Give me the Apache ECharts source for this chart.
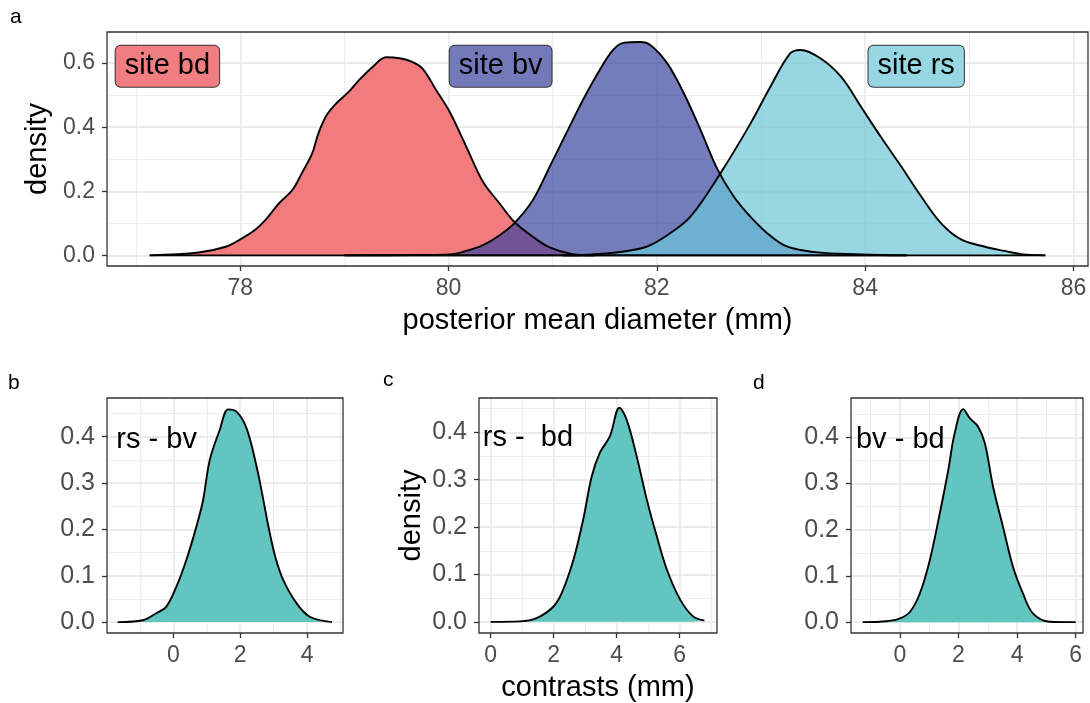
<!DOCTYPE html>
<html>
<head>
<meta charset="utf-8">
<script src="https://cdn.jsdelivr.net/npm/echarts@6/dist/echarts.min.js"></script>
<style>html,body{margin:0;padding:0;background:#fff}#c{width:1090px;height:703px}</style>
</head>
<body>
<div id="c"></div>
<script>
// ---- panel a: posterior mean diameter densities ----
const bdX = [77.13, 77.60, 77.86, 78.00, 78.14, 78.24, 78.37, 78.50, 78.59, 78.69, 78.75, 78.83, 78.92, 79.04, 79.14, 79.27, 79.40, 79.53, 79.65, 79.75, 79.88, 80.01, 80.17, 80.33, 80.49, 80.63, 80.81, 80.97, 81.19, 81.40];
const bdY = [0, 0.009, 0.027, 0.050, 0.079, 0.110, 0.162, 0.204, 0.256, 0.318, 0.381, 0.438, 0.474, 0.510, 0.547, 0.588, 0.618, 0.615, 0.604, 0.583, 0.516, 0.448, 0.339, 0.230, 0.162, 0.105, 0.058, 0.025, 0.004, 0];
const bvX = [79.00, 79.60, 80.01, 80.17, 80.33, 80.49, 80.63, 80.81, 80.97, 81.13, 81.29, 81.45, 81.58, 81.68, 81.84, 81.94, 82.10, 82.26, 82.42, 82.58, 82.74, 82.90, 83.06, 83.22, 83.38, 83.60, 83.96, 84.40];
const bvY = [0, 0.001, 0.003, 0.014, 0.032, 0.063, 0.100, 0.173, 0.276, 0.381, 0.485, 0.578, 0.641, 0.663, 0.666, 0.656, 0.599, 0.505, 0.391, 0.270, 0.183, 0.120, 0.069, 0.032, 0.017, 0.008, 0.003, 0];
const rsX = [81.10, 81.33, 81.61, 81.90, 82.10, 82.32, 82.61, 82.90, 83.09, 83.28, 83.38, 83.57, 83.77, 83.96, 84.15, 84.35, 84.54, 84.73, 84.92, 85.15, 85.34, 85.50, 85.73];
const rsY = [0, 0.002, 0.009, 0.027, 0.063, 0.120, 0.256, 0.412, 0.526, 0.630, 0.641, 0.615, 0.557, 0.464, 0.370, 0.276, 0.183, 0.100, 0.050, 0.027, 0.014, 0.004, 0];
const siteLabels = ['site bd', 'site bv', 'site rs'];
const siteLabelX = [77.30, 80.50, 84.49];
const siteLabelY = [0.59, 0.59, 0.59];

// ---- panels b, c, d: contrasts ----
const rsBvX = [-1.66, -0.91, -0.51, -0.21, 0.09, 0.39, 0.69, 0.89, 1.09, 1.39, 1.64, 1.89, 2.19, 2.49, 2.70, 2.86, 3.05, 3.29, 3.69, 4.09, 4.74];
const rsBvY = [0, 0.004, 0.019, 0.033, 0.076, 0.134, 0.206, 0.263, 0.350, 0.415, 0.459, 0.454, 0.418, 0.335, 0.260, 0.200, 0.140, 0.090, 0.040, 0.011, 0];
const rsBdX = [0, 0.93, 1.46, 1.99, 2.26, 2.63, 2.94, 3.21, 3.47, 3.79, 4.09, 4.32, 4.64, 4.96, 5.28, 5.60, 6.02, 6.44, 6.79];
const rsBdY = [0, 0.001, 0.008, 0.032, 0.061, 0.131, 0.216, 0.307, 0.357, 0.392, 0.452, 0.427, 0.349, 0.258, 0.180, 0.110, 0.047, 0.011, 0.003];
const bvBdX = [-1.27, -0.45, 0, 0.34, 0.68, 1.02, 1.36, 1.65, 1.87, 2.16, 2.39, 2.67, 2.90, 3.18, 3.52, 3.86, 4.20, 4.54, 5.11, 6.00];
const bvBdY = [0, 0.002, 0.008, 0.022, 0.062, 0.134, 0.235, 0.329, 0.409, 0.461, 0.441, 0.423, 0.387, 0.293, 0.206, 0.120, 0.062, 0.019, 0.001, 0];
const contrastLabels = ['rs - bv', 'rs -  bd', 'bv - bd'];
const contrastLabelX = [-1.70, -0.25, -1.50];
const contrastLabelY = [0.393, 0.388, 0.394];

// ---- ticks ----
const aXTicks = [78, 80, 82, 84, 86];
const aXMinor = [77, 79, 81, 83, 85];
const aYTicks = [0, 0.2, 0.4, 0.6];
const aYMinor = [0.1, 0.3, 0.5];
const bXTicks = [0, 2, 4];
const bXMinor = [-1, 1, 3, 5];
const cXTicks = [0, 2, 4, 6];
const cXMinor = [1, 3, 5, 7];
const dXTicks = [0, 2, 4, 6];
const dXMinor = [-1, 1, 3, 5];
const bcdYTicks = [0, 0.1, 0.2, 0.3, 0.4];
const bcdYMinor = [0.05, 0.15, 0.25, 0.35, 0.45];

const FONT = "'Liberation Sans', Arial, sans-serif";
const GRID = '#EBEBEB';
const DARK = '#333333';
const zip = (xs, ys) => xs.map((x, i) => [x, ys[i]]);

const grids = [
  {left: 107, top: 32, width: 981, height: 234},
  {left: 107, top: 398, width: 236, height: 235},
  {left: 479, top: 398, width: 238, height: 235},
  {left: 851, top: 398, width: 232, height: 235}
].map(g => Object.assign({show: true, borderColor: DARK, borderWidth: 1.3, backgroundColor: 'transparent', containLabel: false, z: 3}, g));

const xAxes = [], yAxes = [];
function addAxes(gi, xr, xt, xm, yr, yt, ym, xName, yName, yFont) {
  xAxes.push({type: 'value', gridIndex: gi, min: xr[0], max: xr[1], z: 1, position: 'bottom',
    axisLine: {show: false, onZero: false},
    axisTick: {show: true, length: 5, customValues: xt, lineStyle: {color: DARK, width: 1.3}},
    axisLabel: {customValues: xt, color: '#4D4D4D', fontSize: 23, fontFamily: FONT, margin: 11},
    splitLine: {show: true, lineStyle: {color: GRID, width: 1.8}},
    name: xName, nameLocation: 'middle', nameGap: 40,
    nameTextStyle: {color: '#000', fontSize: 29, fontFamily: FONT}});
  xAxes.push({type: 'value', gridIndex: gi, min: xr[0], max: xr[1], z: 0, position: 'bottom',
    axisLine: {show: false, onZero: false}, axisTick: {show: false, customValues: xm},
    axisLabel: {show: false, customValues: xm},
    splitLine: {show: true, lineStyle: {color: GRID, width: 0.9}}});
  yAxes.push({type: 'value', gridIndex: gi, min: yr[0], max: yr[1], z: 1, position: 'left',
    axisLine: {show: false, onZero: false},
    axisTick: {show: true, length: 5, customValues: yt, lineStyle: {color: DARK, width: 1.3}},
    axisLabel: {customValues: yt, color: '#4D4D4D', fontSize: yFont, fontFamily: FONT, margin: 12,
      formatter: v => v.toFixed(1)},
    splitLine: {show: true, lineStyle: {color: GRID, width: 1.8}},
    name: yName, nameLocation: 'middle', nameGap: 53,
    nameTextStyle: {color: '#000', fontSize: 29, fontFamily: FONT}});
  yAxes.push({type: 'value', gridIndex: gi, min: yr[0], max: yr[1], z: 0, position: 'left',
    axisLine: {show: false, onZero: false}, axisTick: {show: false, customValues: ym},
    axisLabel: {show: false, customValues: ym},
    splitLine: {show: true, lineStyle: {color: GRID, width: 0.9}}});
}
addAxes(0, [76.72, 86.14], aXTicks, aXMinor, [-0.033, 0.697], aYTicks, aYMinor, 'posterior mean diameter (mm)', 'density', 23);
addAxes(1, [-1.98, 5.07], bXTicks, bXMinor, [-0.0235, 0.4835], bcdYTicks, bcdYMinor, '', '', 25);
addAxes(2, [-0.37, 7.19], cXTicks, cXMinor, [-0.0235, 0.4725], bcdYTicks, bcdYMinor, 'contrasts (mm)', 'density', 25);
addAxes(3, [-1.67, 6.25], dXTicks, dXMinor, [-0.0235, 0.485], bcdYTicks, bcdYMinor, '', '', 25);

const series = [];
function density(gi, xs, ys, fill, alpha, closed) {
  series.push({type: 'line', xAxisIndex: gi * 2, yAxisIndex: gi * 2, data: zip(xs, ys),
    smooth: 0.35, symbol: 'none', z: 2, silent: true,
    lineStyle: {color: '#000', width: 1.9},
    areaStyle: {color: fill, opacity: alpha, origin: 0}});
  if (closed) {
    series.push({type: 'line', xAxisIndex: gi * 2, yAxisIndex: gi * 2,
      data: [[xs[0], 0], [xs[xs.length - 1], 0]], symbol: 'none', z: 2, silent: true,
      lineStyle: {color: '#000', width: 1.9}});
  }
}
density(0, bdX, bdY, '#F27B7E', 1, true);
density(0, bvX, bvY, '#3A44A0', 0.7, true);
density(0, rsX, rsY, '#69C6D7', 0.7, true);
density(1, rsBvX, rsBvY, '#62C5BF', 1, false);
density(2, rsBdX, rsBdY, '#62C5BF', 1, false);
density(3, bvBdX, bvBdY, '#62C5BF', 1, false);

const siteFills = ['#F07E80', '#7479BA', '#96D7E3'];
series.push({type: 'scatter', xAxisIndex: 0, yAxisIndex: 0, symbolSize: 0, z: 5, silent: true,
  itemStyle: {color: 'transparent', opacity: 1},
  data: siteLabels.map((t, i) => ({value: [siteLabelX[i], siteLabelY[i]], name: t,
    label: {backgroundColor: siteFills[i]}})),
  label: {show: true, position: 'inside', formatter: p => p.name, color: '#000', opacity: 1,
    fontSize: 29, fontFamily: FONT, lineHeight: 29, padding: [6, 9, 6, 9],
    borderColor: DARK, borderWidth: 1, borderRadius: 5}});
[1, 2, 3].forEach((gi, i) => {
  series.push({type: 'scatter', xAxisIndex: gi * 2, yAxisIndex: gi * 2, symbolSize: 0, z: 5, silent: true,
    itemStyle: {color: 'transparent', opacity: 1},
    data: [{value: [contrastLabelX[i], contrastLabelY[i]], name: contrastLabels[i]}],
    label: {show: true, position: 'inside', align: 'left', formatter: p => p.name, color: '#000', opacity: 1,
      fontSize: 29, fontFamily: FONT}});
});

const panelLetters = [['a', 10, 7], ['b', 8, 373], ['c', 383, 370], ['d', 753, 373]];
const chart = echarts.init(document.getElementById('c'), null, {renderer: 'canvas'});
chart.setOption({
  animation: false,
  grid: grids,
  xAxis: xAxes,
  yAxis: yAxes,
  series: series,
  graphic: panelLetters.map(p => ({type: 'text', left: p[1], top: p[2],
    style: {text: p[0], fontSize: 21, fontFamily: FONT, fill: '#000'}}))
});
</script>
</body>
</html>
